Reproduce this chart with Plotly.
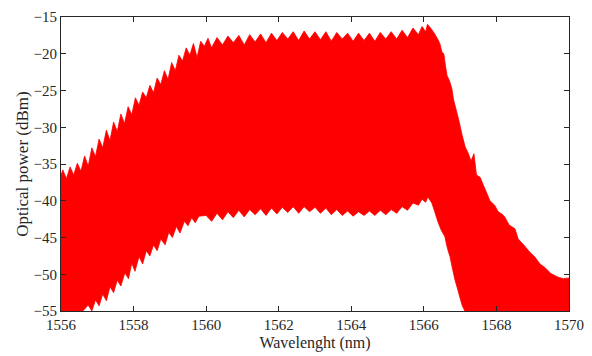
import plotly.graph_objects as go

# Upper envelope of the spectrum (peaks and notches)
upper_wl = [1556.0, 1556.05, 1556.15, 1556.25, 1556.35, 1556.45, 1556.55, 1556.65, 1556.75, 1556.85,
            1556.95, 1557.05, 1557.15, 1557.25, 1557.35, 1557.45, 1557.55, 1557.65, 1557.75, 1557.85,
            1557.95, 1558.05, 1558.15, 1558.25, 1558.35, 1558.45, 1558.55, 1558.65, 1558.75, 1558.85,
            1558.95, 1559.05, 1559.15, 1559.25, 1559.35, 1559.45, 1559.55, 1559.65, 1559.75, 1559.85,
            1559.95, 1560.05, 1560.15, 1560.3, 1560.45, 1560.6, 1560.75, 1560.9, 1561.05, 1561.2,
            1561.35, 1561.5, 1561.65, 1561.8, 1561.95, 1562.1, 1562.25, 1562.4, 1562.55, 1562.7,
            1562.85, 1563.0, 1563.15, 1563.3, 1563.45, 1563.6, 1563.75, 1563.9, 1564.05, 1564.2,
            1564.35, 1564.5, 1564.65, 1564.8, 1564.95, 1565.1, 1565.25, 1565.4, 1565.55, 1565.7,
            1565.85, 1565.95, 1566.05, 1566.1, 1566.2, 1566.3, 1566.38, 1566.44, 1566.5, 1566.55,
            1566.6, 1566.64, 1566.7, 1566.77, 1566.82, 1566.91, 1566.98, 1567.05, 1567.14, 1567.22,
            1567.3, 1567.38, 1567.45, 1567.55, 1567.65, 1567.72, 1567.82, 1567.95, 1568.05, 1568.15,
            1568.23, 1568.35, 1568.51, 1568.6, 1568.75, 1568.92, 1569.05, 1569.2, 1569.34, 1569.5,
            1569.7, 1569.85, 1570.0]
upper_db = [-36.5, -35.8, -37.0, -35.4, -36.5, -34.9, -36.0, -33.9, -35.3, -32.8,
            -34.0, -31.6, -32.8, -30.4, -31.8, -29.3, -30.6, -28.2, -29.5, -27.2,
            -28.3, -26.0, -27.0, -25.2, -26.0, -24.3, -25.3, -23.3, -24.2, -22.3,
            -23.5, -21.2, -22.3, -20.2, -21.0, -19.2, -20.2, -18.6, -20.5, -18.3,
            -19.0, -17.9, -19.2, -17.8, -18.8, -17.6, -18.5, -17.5, -18.8, -17.4,
            -18.4, -17.3, -18.5, -17.2, -18.2, -17.1, -18.0, -17.0, -18.2, -16.9,
            -18.0, -17.0, -18.1, -17.0, -18.3, -17.1, -18.0, -17.2, -18.3, -17.2,
            -18.2, -17.2, -18.3, -17.1, -18.0, -17.0, -18.0, -16.8, -17.8, -16.5,
            -17.4, -16.3, -17.0, -16.0, -16.6, -17.3, -18.0, -18.6, -19.8, -20.0,
            -21.8, -23.0, -23.6, -24.7, -26.3, -28.0, -29.4, -31.0, -32.7, -33.5,
            -34.6, -33.6, -36.5, -36.8, -38.0, -38.8, -40.0, -40.6, -41.5, -41.8,
            -42.2, -43.3, -43.8, -45.2, -46.0, -47.0, -47.6, -48.6, -49.1, -49.9,
            -50.4, -50.6, -50.5]

# Lower envelope of the spectrum (troughs) (floor of the axis at -55)
lower_wl = [1556.0, 1556.6, 1556.75, 1556.85, 1556.95, 1557.05, 1557.15, 1557.25, 1557.35, 1557.45,
            1557.55, 1557.65, 1557.76, 1557.86, 1557.95, 1558.04, 1558.15, 1558.25, 1558.35, 1558.45,
            1558.55, 1558.65, 1558.75, 1558.87, 1558.97, 1559.07, 1559.18, 1559.28, 1559.4, 1559.5,
            1559.6, 1559.7, 1559.8, 1560.0, 1560.15, 1560.3, 1560.45, 1560.6, 1560.75, 1560.9,
            1561.05, 1561.2, 1561.35, 1561.5, 1561.65, 1561.8, 1561.95, 1562.1, 1562.25, 1562.4,
            1562.55, 1562.7, 1562.85, 1563.0, 1563.15, 1563.3, 1563.45, 1563.6, 1563.75, 1563.9,
            1564.05, 1564.2, 1564.35, 1564.5, 1564.65, 1564.8, 1564.95, 1565.1, 1565.25, 1565.4,
            1565.55, 1565.7, 1565.85, 1565.95, 1566.05, 1566.11, 1566.22, 1566.3, 1566.39, 1566.48,
            1566.58, 1566.65, 1566.72, 1566.8, 1566.86, 1566.93, 1566.99, 1567.06, 1567.13, 1570.0]
lower_db = [-55.0, -55.0, -54.2, -55.0, -53.5, -54.3, -52.7, -53.6, -51.7, -52.5,
            -50.8, -51.6, -49.8, -50.6, -48.5, -49.6, -47.6, -48.6, -46.8, -47.5,
            -46.0, -46.8, -45.2, -46.0, -44.3, -45.0, -43.5, -44.4, -42.8, -43.4,
            -42.3, -43.0, -42.1, -42.0, -42.8, -41.7, -42.6, -41.5, -42.3, -41.3,
            -42.2, -41.2, -41.9, -41.1, -42.0, -41.0, -41.8, -40.9, -41.6, -40.8,
            -41.7, -40.8, -41.5, -40.9, -41.7, -41.0, -41.9, -41.2, -42.0, -41.4,
            -42.1, -41.5, -42.0, -41.4, -42.0, -41.3, -41.9, -41.2, -41.7, -40.8,
            -41.3, -40.3, -40.6, -39.8, -40.2, -39.5, -40.3, -41.5, -42.9, -44.0,
            -44.9, -46.5, -47.6, -49.5, -50.8, -52.0, -53.1, -54.3, -55.0, -55.0]

x_ticks = [1556, 1558, 1560, 1562, 1564, 1566, 1568, 1570]
y_ticks = [-15, -20, -25, -30, -35, -40, -45, -50, -55]

red = "#ff0000"
serif = "Liberation Serif"
poly_x = upper_wl + lower_wl[::-1]
poly_y = upper_db + lower_db[::-1]

fig = go.Figure()
fig.add_trace(go.Scatter(x=poly_x, y=poly_y, mode="lines", fill="toself",
                         fillcolor=red, line=dict(color=red, width=0.8, simplify=False),
                         showlegend=False))

axis_common = dict(showline=True, linecolor="#262626", linewidth=1, mirror="ticks",
                   ticks="inside", ticklen=5, tickcolor="#262626", showgrid=False,
                   zeroline=False, automargin=False,
                   tickfont=dict(family=serif, size=15, color="#262626"))
fig.update_xaxes(range=[1556, 1570], tickvals=x_ticks,
                 title=dict(text="Wavelenght (nm)", standoff=4,
                            font=dict(family=serif, size=16, color="#262626")),
                 **axis_common)
fig.update_yaxes(range=[-55, -15], tickvals=y_ticks,
                 title=dict(text="Optical power (dBm)", standoff=0,
                            font=dict(family=serif, size=17, color="#262626")),
                 **axis_common)
fig.update_layout(width=592, height=356, margin=dict(l=61, r=23, t=17, b=45),
                  plot_bgcolor="white", paper_bgcolor="white")
fig.write_html("out.html")
